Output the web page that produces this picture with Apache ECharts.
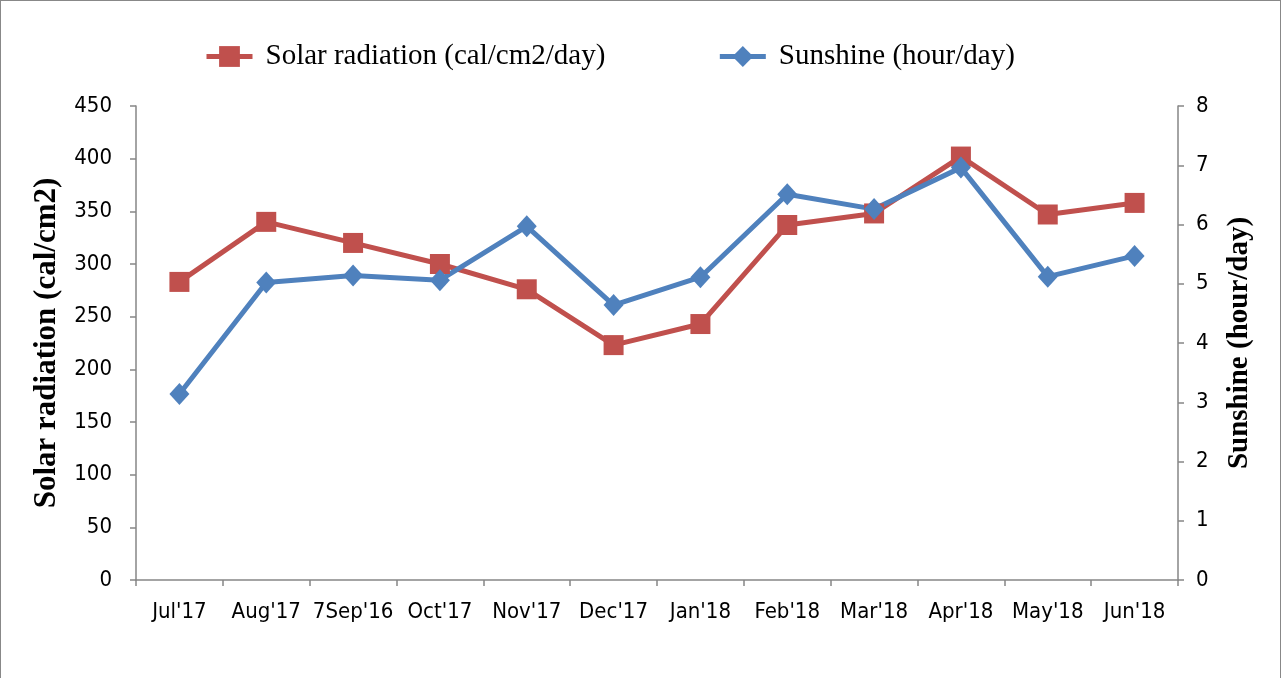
<!DOCTYPE html>
<html>
<head>
<meta charset="utf-8">
<script src="https://cdn.jsdelivr.net/npm/echarts@6/dist/echarts.min.js"></script>
<style>
  html, body { margin: 0; padding: 0; background: #fff; }
  #chart { width: 1281px; height: 678px; border-top: 1px solid #888; border-left: 1px solid #888; border-right: 1px solid #888; box-sizing: border-box; }
</style>
</head>
<body>
<div id="chart"></div>
<script>
// Monthly values
const months = ["Jul'17", "Aug'17", "7Sep'16", "Oct'17", "Nov'17", "Dec'17", "Jan'18", "Feb'18", "Mar'18", "Apr'18", "May'18", "Jun'18"];
const solarRadiation = [283, 340, 320, 300, 276, 223, 243, 337, 348, 402, 347, 358];
const sunshine = [3.14, 5.02, 5.14, 5.06, 5.97, 4.64, 5.11, 6.51, 6.26, 6.96, 5.12, 5.47];

document.addEventListener("DOMContentLoaded", function () {
    var chart = echarts.init(document.getElementById("chart"));
    var labelFont = "'Liberation Sans Narrow', 'DejaVu Sans Condensed', sans-serif";
    var serif = "'Liberation Serif', serif";
    var axisGrey = '#868686';

    var option = {
        animation: false,
        legend: {
            left: 198,
            top: 36,
            itemWidth: 46,
            itemHeight: 26,
            itemGap: 112,
            lineStyle: { width: 5 },
            textStyle: { fontFamily: serif, fontSize: 29, color: '#000', padding: [0, 0, 0, 8] }
        },
        grid: { left: 135, right: 102, top: 105, bottom: 98 },
        xAxis: {
            type: 'category',
            data: months,
            boundaryGap: true,
            axisLine: { lineStyle: { color: axisGrey, width: 1.5 } },
            axisTick: { show: true, length: 6, inside: false, lineStyle: { color: axisGrey, width: 1.5 } },
            axisLabel: { margin: 21, interval: 0, fontFamily: labelFont, fontSize: 22, color: '#000' }
        },
        yAxis: [{
            type: 'value',
            min: 0, max: 450, interval: 50,
            name: 'Solar radiation (cal/cm2)',
            nameLocation: 'middle',
            nameGap: 74,
            nameTextStyle: { fontFamily: serif, fontSize: 31, fontWeight: 'bold', color: '#000' },
            splitLine: { show: false },
            axisLine: { show: true, lineStyle: { color: axisGrey, width: 1.5 } },
            axisTick: { show: true, length: 6, lineStyle: { color: axisGrey, width: 1.5 } },
            axisLabel: { margin: 24, fontFamily: labelFont, fontSize: 22, color: '#000' }
        }, {
            type: 'value',
            min: 0, max: 8, interval: 1,
            name: 'Sunshine (hour/day)',
            nameLocation: 'middle',
            nameGap: 47,
            nameTextStyle: { fontFamily: serif, fontSize: 29, fontWeight: 'bold', color: '#000' },
            splitLine: { show: false },
            axisLine: { show: true, lineStyle: { color: axisGrey, width: 1.5 } },
            axisTick: { show: true, length: 6, lineStyle: { color: axisGrey, width: 1.5 } },
            axisLabel: { margin: 18, fontFamily: labelFont, fontSize: 22, color: '#000' }
        }],
        series: [{
            name: 'Solar radiation (cal/cm2/day)',
            type: 'line',
            yAxisIndex: 0,
            data: solarRadiation,
            symbol: 'rect',
            symbolSize: 20,
            color: '#C0504D',
            lineStyle: { width: 5 },
            itemStyle: { color: '#C0504D' }
        }, {
            name: 'Sunshine (hour/day)',
            type: 'line',
            yAxisIndex: 1,
            data: sunshine,
            symbol: 'diamond',
            symbolSize: [20, 22],
            color: '#4F81BD',
            lineStyle: { width: 5 },
            itemStyle: { color: '#4F81BD' }
        }]
    };

    chart.setOption(option);
});
</script>
</body>
</html>
